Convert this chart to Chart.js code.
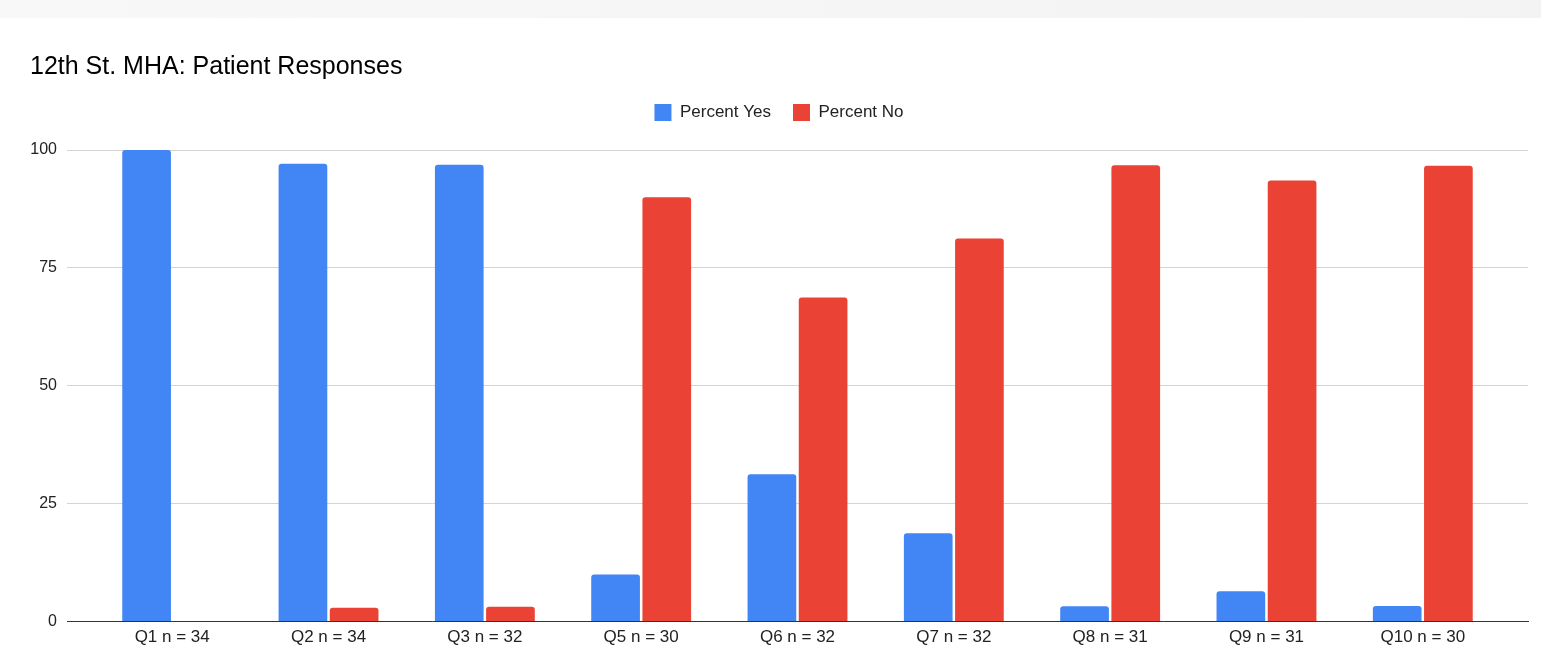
<!DOCTYPE html>
<html lang="en">
<head>
  <meta charset="UTF-8">
  <title>12th St. MHA: Patient Responses</title>
  <script src="https://cdn.jsdelivr.net/npm/chart.js"></script>
  <style>
    html, body { margin: 0; padding: 0; background: #fff; }
    #band { height: 18px; background: linear-gradient(to right, #f8f8f8, #f3f3f3); }
    #wrap { position: relative; width: 1541px; height: 640px; }
  </style>
</head>
<body>
  <div id="band"></div>
  <div id="wrap"><canvas id="chart"></canvas></div>

  <script>
    const questions = ['Q1 n = 34', 'Q2 n = 34', 'Q3 n = 32', 'Q5 n = 30', 'Q6 n = 32',
                       'Q7 n = 32', 'Q8 n = 31', 'Q9 n = 31', 'Q10 n = 30'];
    const percentYes = [100, 97.06, 96.88, 10, 31.25, 18.75, 3.23, 6.45, 3.33];
    const percentNo = [0, 2.94, 3.13, 90, 68.75, 81.25, 96.77, 93.55, 96.67];
    const yTicks = [0, 25, 50, 75, 100];

    const FONT = "'Liberation Sans', Arial, sans-serif";

    // bars sit on a linear index axis so the category band can be narrower than the grid
    const toPoints = (arr) => arr.map((v, i) => ({ x: i, y: v }));
    const edge = 0.673;

    // extra room between the legend row and the plot
    const legendGap = {
      id: 'legendGap',
      beforeInit(chart) {
        const fit = chart.legend.fit;
        chart.legend.fit = function () {
          fit.call(this);
          this.height += 19;
        };
      },
    };

    const ctx = document.getElementById('chart').getContext('2d');
    new Chart(ctx, {
      type: 'bar',
      data: {
        datasets: [
          { label: 'Percent Yes', data: toPoints(percentYes), backgroundColor: '#4285F4' },
          { label: 'Percent No', data: toPoints(percentNo), backgroundColor: '#EA4335' },
        ],
      },
      plugins: [legendGap],
      options: {
        responsive: true,
        maintainAspectRatio: false,
        animation: false,
        categoryPercentage: 0.655,
        barPercentage: 0.951,
        borderRadius: { topLeft: 3, topRight: 3, bottomLeft: 0, bottomRight: 0 },
        borderSkipped: 'start',
        layout: { padding: { left: 30, right: 13, top: 0, bottom: 4 } },
        plugins: {
          title: {
            display: true,
            text: '12th St. MHA: Patient Responses',
            align: 'start',
            color: '#000',
            font: { family: FONT, size: 25, weight: 'normal' },
            padding: { top: 34, bottom: 0 },
          },
          legend: {
            position: 'top',
            labels: {
              color: '#222',
              font: { family: FONT, size: 17 },
              boxWidth: 17,
              boxHeight: 17,
              padding: 22,
            },
          },
          tooltip: { enabled: false },
        },
        scales: {
          x: {
            type: 'linear',
            offset: false,
            min: -edge,
            max: questions.length - 1 + edge,
            afterBuildTicks: (scale) => {
              scale.ticks = questions.map((_, i) => ({ value: i }));
            },
            ticks: {
              autoSkip: false,
              maxRotation: 0,
              padding: 6,
              color: '#222',
              font: { family: FONT, size: 17 },
              callback: (v) => questions[v],
            },
            grid: { display: false, drawTicks: false },
            border: { display: true, color: '#333', width: 1 },
          },
          y: {
            min: 0,
            max: 100,
            afterBuildTicks: (scale) => {
              scale.ticks = yTicks.map((v) => ({ value: v }));
            },
            afterFit: (scale) => {
              scale.width = 37;
            },
            ticks: {
              padding: 10,
              color: '#222',
              font: { family: FONT, size: 16 },
            },
            grid: { color: '#d4d4d4', drawTicks: false },
            border: { display: false },
          },
        },
      },
    });
  </script>
</body>
</html>
